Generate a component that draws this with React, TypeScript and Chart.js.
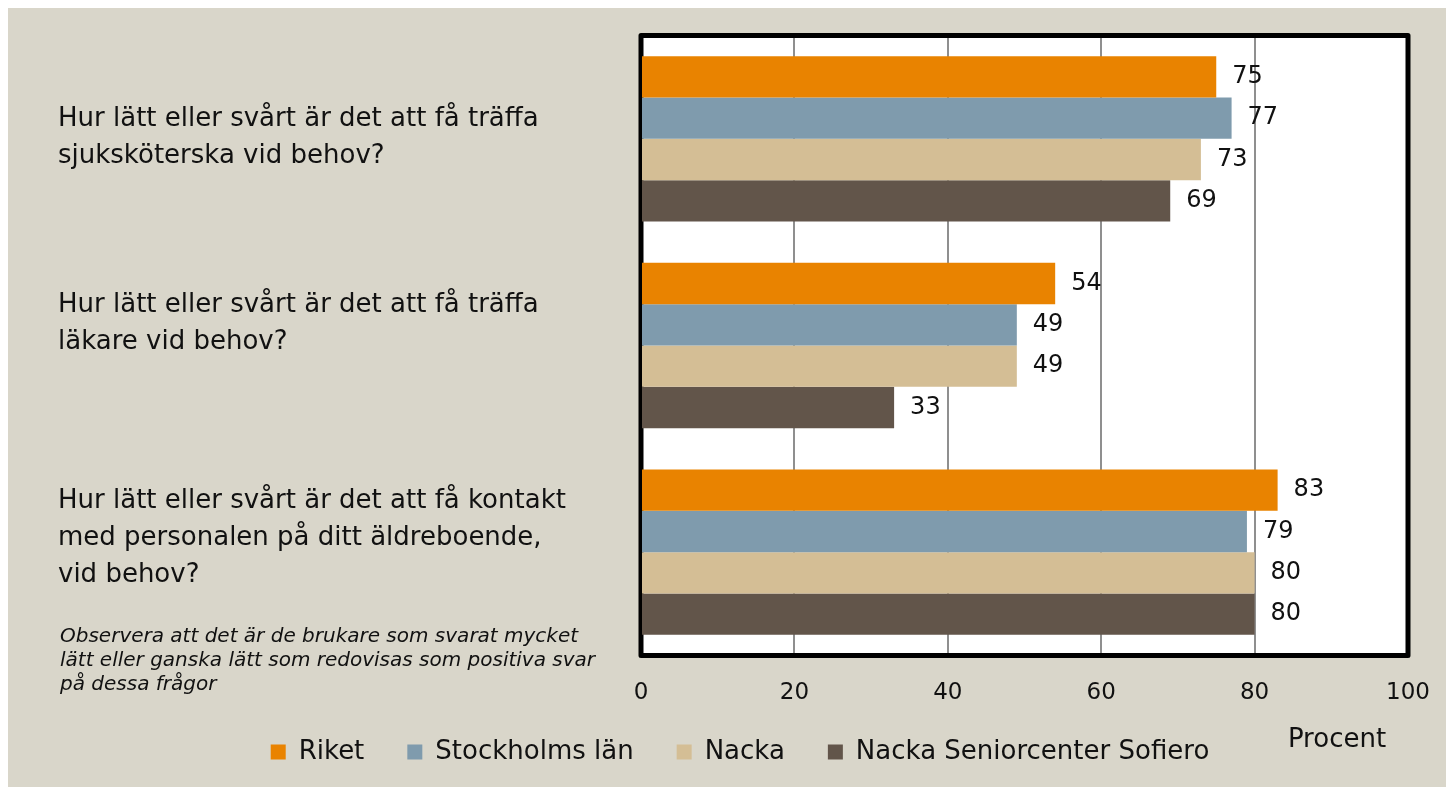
import React, { useEffect, useRef } from 'react';
import { Chart, registerables } from 'chart.js';

Chart.register(...registerables);

// ---- Data ----
const categories: string[][] = [
  ['Hur lätt eller svårt är det att få träffa', 'sjuksköterska vid behov?'],
  ['Hur lätt eller svårt är det att få träffa', 'läkare vid behov?'],
  ['Hur lätt eller svårt är det att få kontakt', 'med personalen på ditt äldreboende,', 'vid behov?'],
];
const seriesNames = ['Riket', 'Stockholms län', 'Nacka', 'Nacka Seniorcenter Sofiero'];
const riket = [75, 54, 83];
const stockholmsLan = [77, 49, 79];
const nacka = [73, 49, 80];
const sofiero = [69, 33, 80];
const xMin = 0;
const xMax = 100;
const xStep = 20;
const axisTitle = 'Procent';
const footnote = [
  'Observera att det är de brukare som svarat mycket',
  'lätt eller ganska lätt som redovisas som positiva svar',
  'på dessa frågor',
];

// ---- Styles ----
const FONT = "'DejaVu Sans', sans-serif";
const TEXT = '#111111';
const BG = '#D9D6CA';
const colors = ['#E98300', '#7F9BAD', '#D4BE95', '#62554A'];
const labelFirstLineOffset = [-20, -40, -51];
const labelLineHeight = 37;
const legendShiftUp = 12;

if (typeof document !== 'undefined') {
  document.documentElement.style.overflow = 'hidden';
  document.body.style.overflow = 'hidden';
}

const decorPlugin = {
  id: 'decor',
  afterLayout(chart: any) {
    const lg = chart.legend;
    if (lg) {
      lg.top -= legendShiftUp;
      lg.bottom -= legendShiftUp;
    }
  },
  beforeDraw(chart: any) {
    const { ctx, width, height, chartArea: a } = chart;
    ctx.save();
    ctx.fillStyle = BG;
    ctx.fillRect(0, 0, width, height);
    ctx.fillStyle = '#FFFFFF';
    ctx.fillRect(a.left, a.top, a.right - a.left, a.bottom - a.top);
    ctx.restore();
  },
  beforeDatasetsDraw(chart: any) {
    const { ctx, chartArea: a } = chart;
    ctx.save();
    ctx.lineWidth = 5;
    ctx.strokeStyle = '#000000';
    ctx.lineJoin = 'round';
    ctx.strokeRect(a.left, a.top, a.right - a.left, a.bottom - a.top);
    ctx.restore();
  },
  afterDatasetsDraw(chart: any) {
    const { ctx } = chart;
    ctx.save();
    ctx.font = `24px ${FONT}`;
    ctx.fillStyle = TEXT;
    ctx.textAlign = 'left';
    ctx.textBaseline = 'middle';
    chart.data.datasets.forEach((ds: any, di: number) => {
      const meta = chart.getDatasetMeta(di);
      meta.data.forEach((el: any, i: number) => {
        ctx.fillText(String(ds.data[i]), el.x + 16, el.y);
      });
    });
    ctx.restore();
  },
  afterDraw(chart: any) {
    const { ctx } = chart;
    const yScale = chart.scales.y;
    const xScale = chart.scales.x;
    ctx.save();
    ctx.fillStyle = TEXT;
    ctx.textAlign = 'left';
    ctx.textBaseline = 'middle';
    ctx.font = `26px ${FONT}`;
    categories.forEach((lines, i) => {
      const cy = yScale.getPixelForValue(i);
      lines.forEach((line, k) => {
        ctx.fillText(line, 50, cy + labelFirstLineOffset[i] + k * labelLineHeight);
      });
    });
    ctx.font = `italic 20px ${FONT}`;
    footnote.forEach((line, k) => {
      ctx.fillText(line, 52, 629 + k * 24);
    });
    ctx.font = `26px ${FONT}`;
    ctx.textAlign = 'center';
    ctx.fillText(axisTitle, xScale.right - 71, 732);
    ctx.restore();
  },
};

export default function App() {
  const ref = useRef<HTMLCanvasElement | null>(null);

  useEffect(() => {
    const canvas = ref.current;
    if (!canvas) return;
    const series = [riket, stockholmsLan, nacka, sofiero];
    const chart = new Chart(canvas, {
      type: 'bar',
      data: {
        labels: categories.map((c) => c.join(' ')),
        datasets: series.map((d, i) => ({
          label: seriesNames[i],
          data: d,
          backgroundColor: colors[i],
          borderWidth: 0,
          categoryPercentage: 0.8,
          barPercentage: 1.0,
        })),
      },
      options: {
        indexAxis: 'y',
        responsive: true,
        maintainAspectRatio: false,
        animation: false,
        layout: { padding: { top: 27.5, right: 38, bottom: 0, left: 64 } },
        scales: {
          y: {
            type: 'category',
            ticks: { display: false },
            grid: { display: false },
            border: { display: false },
            afterFit: (s: any) => {
              s.width = 569;
            },
          },
          x: {
            type: 'linear',
            min: xMin,
            max: xMax,
            ticks: {
              stepSize: xStep,
              padding: 23.5,
              color: TEXT,
              font: { family: FONT, size: 23 },
            },
            grid: { color: '#8F8F8F', lineWidth: 2, drawTicks: false },
            border: { display: false },
            afterFit: (s: any) => {
              s.height = 52.5;
              s.paddingLeft = 0;
              s.paddingRight = 20;
            },
          },
        },
        plugins: {
          legend: {
            position: 'bottom',
            labels: {
              boxWidth: 15,
              boxHeight: 15,
              padding: 43,
              color: TEXT,
              font: { family: FONT, size: 26 },
            },
          },
          tooltip: { enabled: false },
        },
      } as any,
      plugins: [decorPlugin],
    });
    return () => chart.destroy();
  }, []);

  return (
    <div style={{ position: 'absolute', left: 8, top: 8, width: 1438, height: 779 }}>
      <canvas ref={ref} />
    </div>
  );
}
